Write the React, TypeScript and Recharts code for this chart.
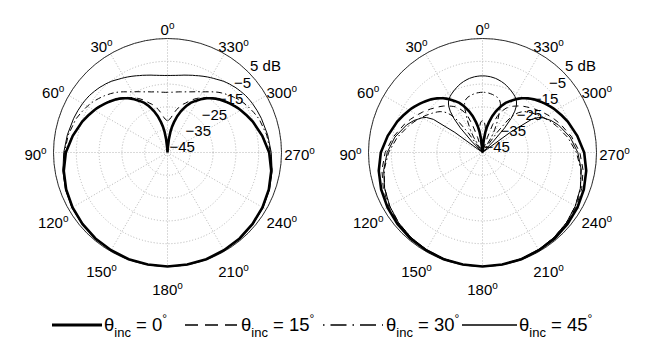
import { RadarChart, Radar, PolarGrid, PolarAngleAxis, PolarRadiusAxis } from "recharts";

// angles in degrees (0 = up, counter-clockwise); patterns are symmetric, the 180..360 half is mirrored
const ANGLES = [0, 2, 4, 6, 8, 10, 12, 15, 18, 20, 22, 25, 28, 30, 32, 34, 36, 38, 40, 42, 44, 46, 48, 50, 52, 54, 56, 58, 60, 65, 70, 80, 90, 100, 110, 120, 130, 140, 150, 160, 170, 180];

// theta_inc = 0 (same in both panels)
const GAIN_0 = [-45, -45, -43, -39, -36, -33.5, -31.5, -28.5, -26, -24.5, -23, -21, -19.5, -18.5, -17.5, -16.5, -15.6, -14.8, -14, -13.3, -12.6, -12, -11.4, -10.8, -10.2, -9.6, -9, -8.4, -7.9, -6.6, -5.2, -2.8, -0.4, 1.2, 2.3, 3.1, 3.7, 4.2, 4.5, 4.8, 4.9, 5];

// left panel
const LEFT_15 = [-31, -30.8, -30.3, -29.5, -28.3, -27, -25.8, -24, -22.7, -22, -21, -19.5, -18.2, -17.4, -16.6, -15.9, -15.2, -14.4, -13.7, -13, -12.3, -11.7, -11.1, -10.5, -10, -9.4, -8.8, -8.2, -7.7, -6.4, -5.1, -2.6, -0.2, 1.3, 2.4, 3.2, 3.8, 4.2, 4.6, 4.8, 4.9, 5];
const LEFT_30 = [-18.6, -18.6, -18.5, -18.4, -18.2, -18, -17.8, -17.5, -17, -16.7, -16.3, -15.6, -14.8, -14.3, -13.6, -12.9, -12.1, -11.3, -10.5, -9.8, -9.1, -8.5, -7.8, -7.2, -6.6, -6, -5.4, -4.9, -4.4, -3.3, -2.2, -0.8, 0.2, 1.5, 2.5, 3.3, 3.8, 4.2, 4.6, 4.8, 4.9, 5];
const LEFT_45 = [-11.2, -11.2, -11.1, -11, -10.8, -10.6, -10.3, -9.9, -9.4, -9.1, -8.7, -8.1, -7.5, -7.1, -6.7, -6.3, -5.8, -5.3, -4.9, -4.5, -4.2, -3.8, -3.5, -3.2, -2.9, -2.6, -2.4, -2.2, -2, -1.6, -1.2, -0.4, 0.5, 1.6, 2.6, 3.4, 3.9, 4.3, 4.6, 4.8, 4.9, 5];

// right panel
const RIGHT_15 = [-31, -31.3, -32, -33.5, -36, -40, -45, -45, -38, -32, -28, -25, -23, -22, -21.2, -20.5, -19.8, -19.1, -18.4, -17.8, -17.2, -16.6, -16, -15.3, -14.7, -14, -13.3, -12.7, -12, -10.3, -8.6, -5.3, -2.3, -0.2, 1.3, 2.5, 3.3, 3.9, 4.4, 4.7, 4.9, 5];
const RIGHT_30 = [-18.6, -18.6, -18.7, -18.8, -19, -19.2, -19.5, -19.9, -20.8, -22, -24.5, -29, -33.5, -37, -45, -45, -34, -27, -23.5, -21.5, -20.2, -19.2, -18.4, -17.7, -17, -16.3, -15.6, -14.9, -14.2, -12.4, -10.6, -7, -3.8, -1.2, 0.7, 2, 3, 3.7, 4.2, 4.6, 4.9, 5];
const RIGHT_45 = [-11.4, -11.4, -11.5, -11.6, -11.8, -12, -12.3, -12.8, -13.4, -13.9, -14.4, -15.2, -16, -16.6, -17.3, -18.3, -19.7, -22, -25.5, -30.5, -38, -45, -45, -45, -45, -30, -19, -16, -14.5, -11.8, -9.6, -6, -3.2, -1, 0.7, 2, 3, 3.7, 4.2, 4.6, 4.9, 5];

const ANGLE_TICKS = [0, 30, 60, 90, 120, 150, 180, 210, 240, 270, 300, 330];
const DB_TICKS = [-45, -35, -25, -15, -5, 5];
const INC_LABELS = ["0", "15", "30", "45"];

const R = 114;
const FONT = "'Liberation Sans', Arial, Helvetica, sans-serif";

function buildTable(s0: number[], s15: number[], s30: number[], s45: number[]) {
    const half = ANGLES.map((a, i) => ({ angle: a, s0: s0[i], s15: s15[i], s30: s30[i], s45: s45[i] }));
    const mirrored = half
        .slice(1, -1)
        .reverse()
        .map((r) => ({ ...r, angle: 360 - r.angle }));
    return [...half, ...mirrored];
}

const leftData = buildTable(GAIN_0, LEFT_15, LEFT_30, LEFT_45);
const rightData = buildTable(GAIN_0, RIGHT_15, RIGHT_30, RIGHT_45);

const STYLES = [
    { key: "s0", width: 2.6, dash: undefined, legendDash: undefined, legendWidth: 3.2 },
    { key: "s15", width: 1, dash: "6 5", legendDash: "13 7", legendWidth: 1.3 },
    { key: "s30", width: 1, dash: "6 3 1.5 3", legendDash: "1.5 6 16 6", legendWidth: 1.3 },
    { key: "s45", width: 1, dash: undefined, legendDash: undefined, legendWidth: 1.3 },
];

const angleTick = (cx: number, cy: number) => (props: any) => {
    const v = props.payload.value as number;
    const phi = ((90 + v) * Math.PI) / 180;
    const ux = Math.cos(phi);
    const uy = -Math.sin(phi);
    const x = cx + 132 * ux;
    const y = cy + 2 + 125 * uy + 10 * Math.max(0, uy);
    return (
        <text x={x} y={y + 5.5} textAnchor="middle" fontSize={15} fill="#000" fontFamily={FONT}>
            {v}
            <tspan dy={-6} fontSize={10} fill="#000">o</tspan>
        </text>
    );
};

const dbTick = (props: any) => {
    const { x, y, payload } = props;
    const v = payload.value as number;
    const label = v === 5 ? "5 dB" : v < 0 ? `\u2212${-v}` : `${v}`;
    return (
        <text x={x + 2} y={y - 0.5} textAnchor="start" fontSize={15} fill="#000" fontFamily={FONT}>
            {label}
        </text>
    );
};

function PolarPanel({ data, cx, cy }: { data: any[]; cx: number; cy: number }) {
    return (
        <RadarChart
            width={327}
            height={300}
            data={data}
            cx={cx}
            cy={cy}
            outerRadius={R}
            startAngle={90}
            endAngle={450}
            margin={{ top: 0, right: 0, bottom: 0, left: 0 }}
        >
            <PolarGrid gridType="circle" stroke="#b5b5b5" strokeDasharray="1 2" />
            <PolarGrid gridType="circle" polarRadius={[R]} polarAngles={[]} radialLines={false} stroke="#000" strokeWidth={0.8} />
            <PolarAngleAxis
                dataKey="angle"
                type="number"
                domain={[0, 360]}
                ticks={ANGLE_TICKS}
                tick={angleTick(cx, cy)}
                axisLine={false}
                tickLine={false}
            />
            <PolarRadiusAxis
                angle={45}
                type="number"
                domain={[-45, 5]}
                ticks={DB_TICKS}
                tick={dbTick}
                axisLine={false}
                tickLine={false}
            />
            {STYLES.map((s) => (
                <Radar
                    key={s.key}
                    dataKey={s.key}
                    stroke="#000"
                    strokeWidth={s.width}
                    strokeDasharray={s.dash}
                    fill="none"
                    fillOpacity={0}
                    dot={false}
                    isAnimationActive={false}
                />
            ))}
        </RadarChart>
    );
}

const LEGEND_POS = [
    { x1: 52, x2: 102, tx: 104 },
    { x1: 185, x2: 237, tx: 241 },
    { x1: 323, x2: 383, tx: 386 },
    { x1: 462, x2: 517, tx: 519 },
];

function LegendRow() {
    return (
        <svg width={654} height={48} style={{ position: "absolute", left: 0, top: 295 }}>
            {INC_LABELS.map((lab, i) => (
                <g key={lab}>
                    <line
                        x1={LEGEND_POS[i].x1}
                        x2={LEGEND_POS[i].x2}
                        y1={30}
                        y2={30}
                        stroke="#000"
                        strokeWidth={STYLES[i].legendWidth}
                        strokeDasharray={STYLES[i].legendDash}
                    />
                    <text x={LEGEND_POS[i].tx} y={36} fontSize={18.5} fill="#000" fontFamily={FONT}>
                        θ
                        <tspan dy={6} fontSize={13} fill="#000">inc</tspan>
                        <tspan dy={-6} fill="#000"> = {lab}</tspan>
                        <tspan dy={-8} fontSize={12} fill="#000">°</tspan>
                    </text>
                </g>
            ))}
        </svg>
    );
}

export default function App() {
    return (
        <div
            style={{
                position: "absolute",
                left: 0,
                top: 0,
                width: 654,
                height: 343,
                background: "#fff",
                fontFamily: FONT,
                overflow: "hidden",
            }}
        >
            <div style={{ position: "absolute", left: 0, top: 0 }}>
                <PolarPanel data={leftData} cx={167.5} cy={152.5} />
            </div>
            <div style={{ position: "absolute", left: 327, top: 0 }}>
                <PolarPanel data={rightData} cx={155.5} cy={152.5} />
            </div>
            <LegendRow />
        </div>
    );
}
